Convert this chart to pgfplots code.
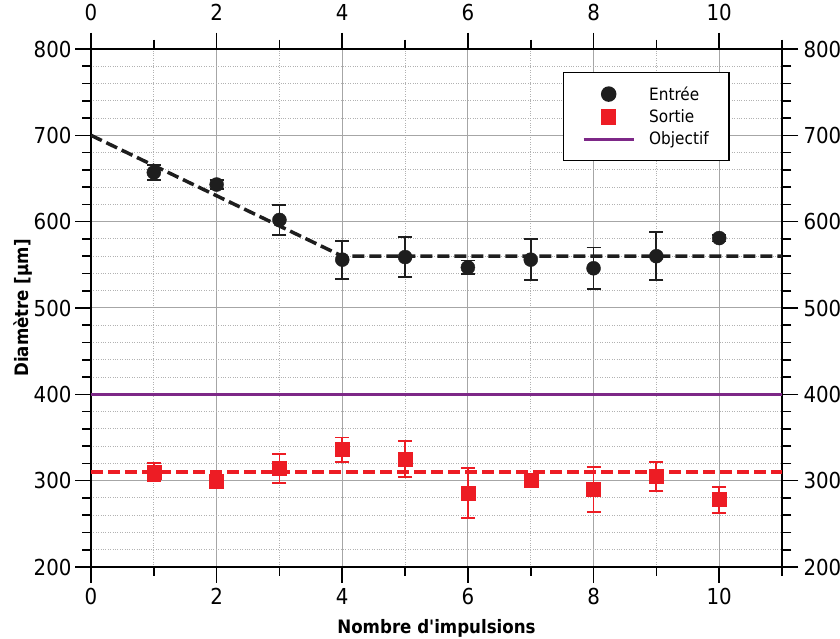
\documentclass[border=0pt]{standalone}
\usepackage{fontspec}
\setmainfont{DejaVu Sans Condensed}[Ligatures=TeXOff]
\usepackage{pgfplots}
\pgfplotsset{compat=1.18}
\definecolor{myred}{RGB}{237,28,36}
\definecolor{mypurple}{RGB}{125,40,135}
\definecolor{myblack}{RGB}{30,30,30}
\pgfplotstableread{
x y e
1 657 9
2 643 5
3 602 17
4 556 22
5 559 23
6 547 8
7 556 24
8 546 24
9 560 28
10 581 4
}\entree
\pgfplotstableread{
x y e
1 310 10
2 299 7
3 314 17
4 336 14
5 325 21
6 286 29
7 300 6
8 290 26
9 305 17
10 278 15
}\sortie
\pgfplotsset{
 markleg/.style={legend image code/.code={\draw[mark repeat=2,mark phase=2,##1] plot coordinates {(0pt,0pt)(25pt,0pt)(50pt,0pt)};}},
 lineleg/.style={legend image code/.code={\draw[##1] (0pt,0pt)--(50pt,0pt);}},
 common/.style={
  scale only axis, width=691pt, height=518pt,
  at={(0,0)}, anchor=south west,
  xmin=0, xmax=11, ymin=200, ymax=800,
  xtick={0,2,...,10}, minor xtick={1,3,...,11},
  ytick={200,300,...,800}, minor ytick={220,240,...,780},
  tick align=outside,
  major tick length=16pt, minor tick length=9pt,
  every tick/.style={line width=1.6pt, black},
  axis line style={line width=1.8pt, black},
  tick label style={font=\fontsize{22}{24}\selectfont},
  /pgf/number format/assume math mode=true,
 }
}
\begin{document}
\begin{tikzpicture}
\begin{axis}[common,
  xticklabel pos=lower, yticklabel pos=left,
  xticklabel style={yshift=-2pt},
  grid=both,
  major grid style={black!35, line width=1pt},
  minor grid style={black!30, dotted, line width=1pt},
  xlabel={Nombre d'impulsions}, ylabel={Diamètre [µm]},
  label style={font=\fontsize{18.5}{21}\selectfont\bfseries},
  xlabel style={yshift=-7pt},
  ylabel style={yshift=-6pt},
  legend style={at={(0.683,0.956)}, anchor=north west, draw=black, line width=1.5pt,
    font=\fontsize{17}{20}\selectfont, inner xsep=18.5pt, inner ysep=12pt, row sep=4pt,
    /tikz/every odd column/.append style={column sep=12pt}},
  legend cell align=left,
]
\addplot[myblack, line width=3.5pt, dash pattern=on 12pt off 5pt, forget plot] coordinates {(0,700)(4,560)(11,560)};
\addplot[myred, line width=3.5pt, dash pattern=on 12pt off 5pt, forget plot] coordinates {(0,310)(11,310)};
\addplot[only marks, mark=*, mark size=7pt, myblack, markleg,
  error bars/.cd, y dir=both, y explicit,
  error bar style={line width=1.8pt},
  error mark options={rotate=90, line width=1.8pt, mark size=7pt}]
  table[x=x, y=y, y error=e] {\entree};
\addlegendentry{Entrée}
\addplot[only marks, mark=square*, mark size=7pt, myred, markleg,
  error bars/.cd, y dir=both, y explicit,
  error bar style={line width=1.8pt},
  error mark options={rotate=90, line width=1.8pt, mark size=7pt}]
  table[x=x, y=y, y error=e] {\sortie};
\addlegendentry{Sortie}
\addplot[mypurple, line width=3pt, lineleg] coordinates {(0,400)(11,400)};
\addlegendentry{Objectif}
\end{axis}
\begin{axis}[common,
  xticklabel pos=upper, yticklabel pos=right,
  xticklabel style={yshift=9pt},
  yticklabel style={xshift=2pt},
  axis line style={draw=none},
]
\end{axis}
\pgfresetboundingbox
\path (-91pt,-72pt) rectangle (749pt,567pt);
\end{tikzpicture}
\end{document}
